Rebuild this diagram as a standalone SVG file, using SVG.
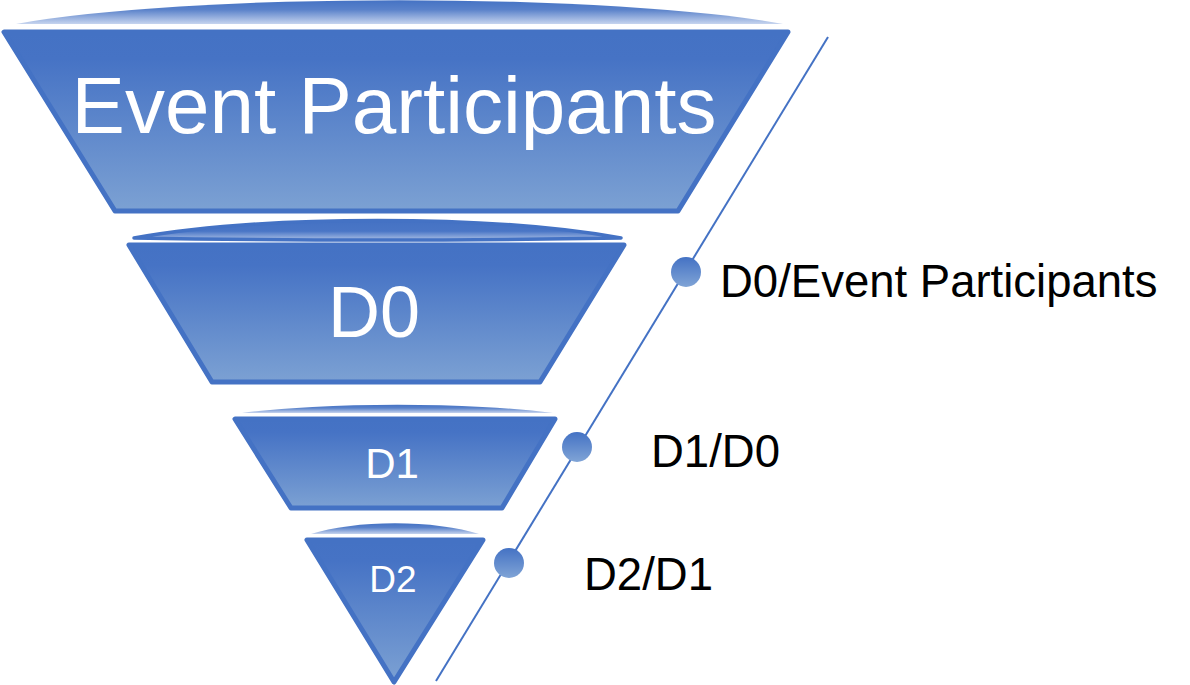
<svg xmlns="http://www.w3.org/2000/svg" width="1190" height="685" viewBox="0 0 1190 685">
<defs>
<linearGradient id="gBody" x1="0" y1="0" x2="0" y2="1">
<stop offset="0" stop-color="#4472C4"/>
<stop offset="0.15" stop-color="#4673C5"/>
<stop offset="1" stop-color="#7CA1D3"/>
</linearGradient>
<linearGradient id="gCap" x1="0" y1="0" x2="0" y2="1">
<stop offset="0" stop-color="#4472C4"/>
<stop offset="0.4" stop-color="#5A82CA"/>
<stop offset="1" stop-color="#C6D4EE"/>
</linearGradient>
<linearGradient id="gCap2" x1="0" y1="0" x2="0" y2="1">
<stop offset="0" stop-color="#4472C4"/>
<stop offset="0.55" stop-color="#4A76C6"/>
<stop offset="1" stop-color="#A9BEE4"/>
</linearGradient>
<linearGradient id="gDot" x1="0" y1="0" x2="0" y2="1">
<stop offset="0" stop-color="#4472C4"/>
<stop offset="1" stop-color="#80A4D6"/>
</linearGradient>
<style>
.body{fill:url(#gBody);stroke:#4472C4;stroke-width:5;stroke-linejoin:round}
.cap{fill:url(#gCap)}
.capo{fill:url(#gCap2);stroke:#4472C4;stroke-width:3.5;stroke-linejoin:round}
.dot{fill:url(#gDot)}
.in{font-family:"Liberation Sans",Arial,sans-serif;fill:#FFFFFF;text-anchor:middle}
.lbl{font-family:"Liberation Sans",Arial,sans-serif;fill:#000000;font-size:45.5px}
</style>
</defs>
<g id="connectors">
<line x1="828" y1="37" x2="436" y2="681" stroke="#4472C4" stroke-width="2"/>
</g>
<g id="node-top">
<path class="cap" d="M16,24 A450,50 0 0 1 783,24 Z"/>
<path class="body" d="M4,32 L788,32 L678,211 L115,211 Z"/>
<text class="in" x="394" y="133" font-size="80">Event Participants</text>
</g>
<g id="node-d0">
<path class="body" d="M129,245 L624,245 L540,382 L212,382 Z"/>
<path class="capo" d="M134,238 A330,54 0 0 1 621,238 Q377,242 134,238 Z"/>
<text class="in" x="374" y="337" font-size="72">D0</text>
</g>
<g id="node-d1">
<path class="cap" d="M242,413 A210,25 0 0 1 553,413 Z"/>
<path class="body" d="M235,419 L555,419 L502,508 L291,508 Z"/>
<text class="in" x="392" y="478" font-size="42">D1</text>
</g>
<g id="node-d2">
<path class="cap" d="M311,534 A110,30 0 0 1 479,534 Z"/>
<path class="body" d="M307,540 L483,540 L394,682 Z"/>
<text class="in" x="393" y="592" font-size="37">D2</text>
</g>
<g id="node-label-d0">
<circle class="dot" cx="686" cy="272" r="15"/>
<text class="lbl" x="720" y="297">D0/Event Participants</text>
</g>
<g id="node-label-d1">
<circle class="dot" cx="577" cy="447" r="15"/>
<text class="lbl" x="651" y="467">D1/D0</text>
</g>
<g id="node-label-d2">
<circle class="dot" cx="509" cy="563" r="15"/>
<text class="lbl" x="584" y="590">D2/D1</text>
</g>
</svg>
